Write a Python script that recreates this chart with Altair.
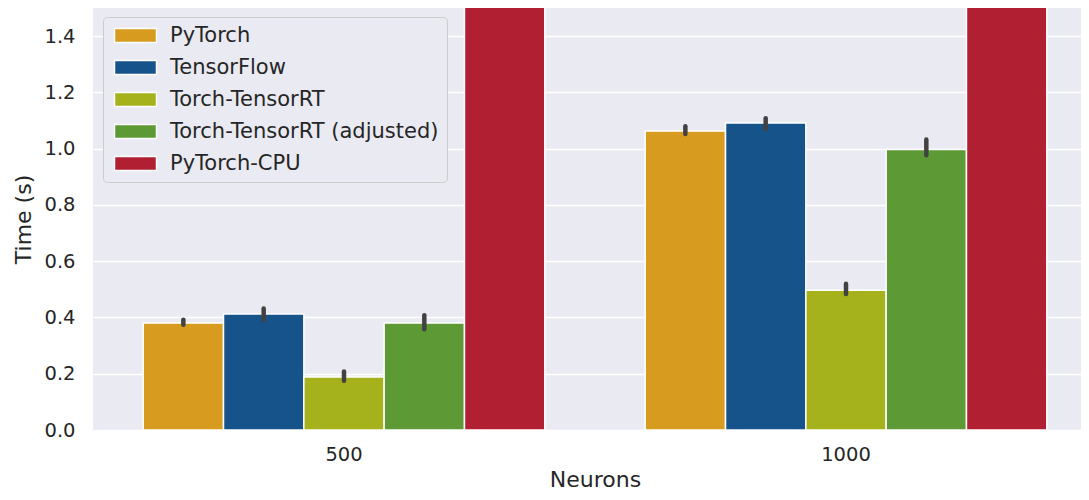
import altair as alt
import pandas as pd

neurons = ["500", "1000"]
frameworks = ["PyTorch", "TensorFlow", "Torch-TensorRT", "Torch-TensorRT (adjusted)", "PyTorch-CPU"]
colors = ["#D79C1F", "#16538A", "#A6B21C", "#5D9A36", "#B11F32"]

mean_500 = [0.380, 0.412, 0.188, 0.380, 2.50]
mean_1000 = [1.063, 1.091, 0.497, 0.997, 3.00]
lo_500 = [0.374, 0.392, 0.175, 0.358, None]
hi_500 = [0.392, 0.432, 0.208, 0.408, None]
lo_1000 = [1.052, 1.070, 0.483, 0.977, None]
hi_1000 = [1.080, 1.108, 0.520, 1.033, None]

rows = []
for n, means, los, his in [("500", mean_500, lo_500, hi_500), ("1000", mean_1000, lo_1000, hi_1000)]:
    for f, m, lo, hi in zip(frameworks, means, los, his):
        rows.append({"Neurons": n, "Framework": f, "Time": m, "lo": lo, "hi": hi})
df = pd.DataFrame(rows)

FONT = "DejaVu Sans"
TXT = "#262626"

x_scale = alt.Scale(paddingInner=0.2, paddingOuter=0.1, range=[0, 1004])
x_enc = alt.X("Neurons:N", sort=neurons, title="Neurons", scale=x_scale,
              axis=alt.Axis(labelAngle=0, ticks=False, domain=False, grid=False,
                            labelPadding=15, titlePadding=6))
xo_enc = alt.XOffset("Framework:N", sort=frameworks, scale=alt.Scale(paddingInner=0, paddingOuter=0))
y_scale = alt.Scale(domain=[0, 1.5], nice=False, zero=True)

bars = alt.Chart(df).mark_bar(clip=True, stroke="white", strokeWidth=1.5).encode(
    x=x_enc,
    xOffset=xo_enc,
    y=alt.Y("Time:Q", title="Time (s)", scale=y_scale,
            axis=alt.Axis(values=[0, 0.2, 0.4, 0.6, 0.8, 1.0, 1.2, 1.4], format=".1f",
                          ticks=False, domain=False, labelPadding=18, titlePadding=8,
                          gridColor="white", gridWidth=1.5)),
    color=alt.Color("Framework:N", sort=frameworks,
                    scale=alt.Scale(domain=frameworks, range=colors),
                    legend=alt.Legend(title=None, orient="none", legendX=10, legendY=9,
                                      symbolType="M-1,-1H5V1H-1Z", symbolSize=196,
                                      symbolStrokeColor="white", symbolStrokeWidth=1.5,
                                      symbolOpacity=1, labelLimit=500,
                                      labelFontSize=21, labelColor=TXT, labelFont=FONT,
                                      labelOffset=38, rowPadding=10,
                                      padding=8, fillColor="#EAEAF2", strokeColor="#CCCCCC",
                                      cornerRadius=4)),
)

errs = alt.Chart(df).transform_filter("datum.lo != null").mark_rule(
    color="#424242", strokeWidth=4.5, strokeCap="round"
).encode(
    x=alt.X("Neurons:N", sort=neurons, scale=x_scale),
    xOffset=alt.XOffset("Framework:N", sort=frameworks),
    y=alt.Y("lo:Q", scale=y_scale),
    y2="hi:Q",
)

chart = alt.layer(bars, errs).properties(
    width=988, height=422, background="white",
    autosize=alt.AutoSizeParams(type="none"),
    padding={"left": 85, "top": 0, "right": 0, "bottom": 62},
).configure_view(fill="#EAEAF2", stroke=None).configure_axis(
    labelFont=FONT, titleFont=FONT, labelFontSize=19.5, titleFontSize=22,
    labelColor=TXT, titleColor=TXT, titleFontWeight="normal",
)

chart.save("out.html", embed_options={"renderer": "svg", "actions": False})
